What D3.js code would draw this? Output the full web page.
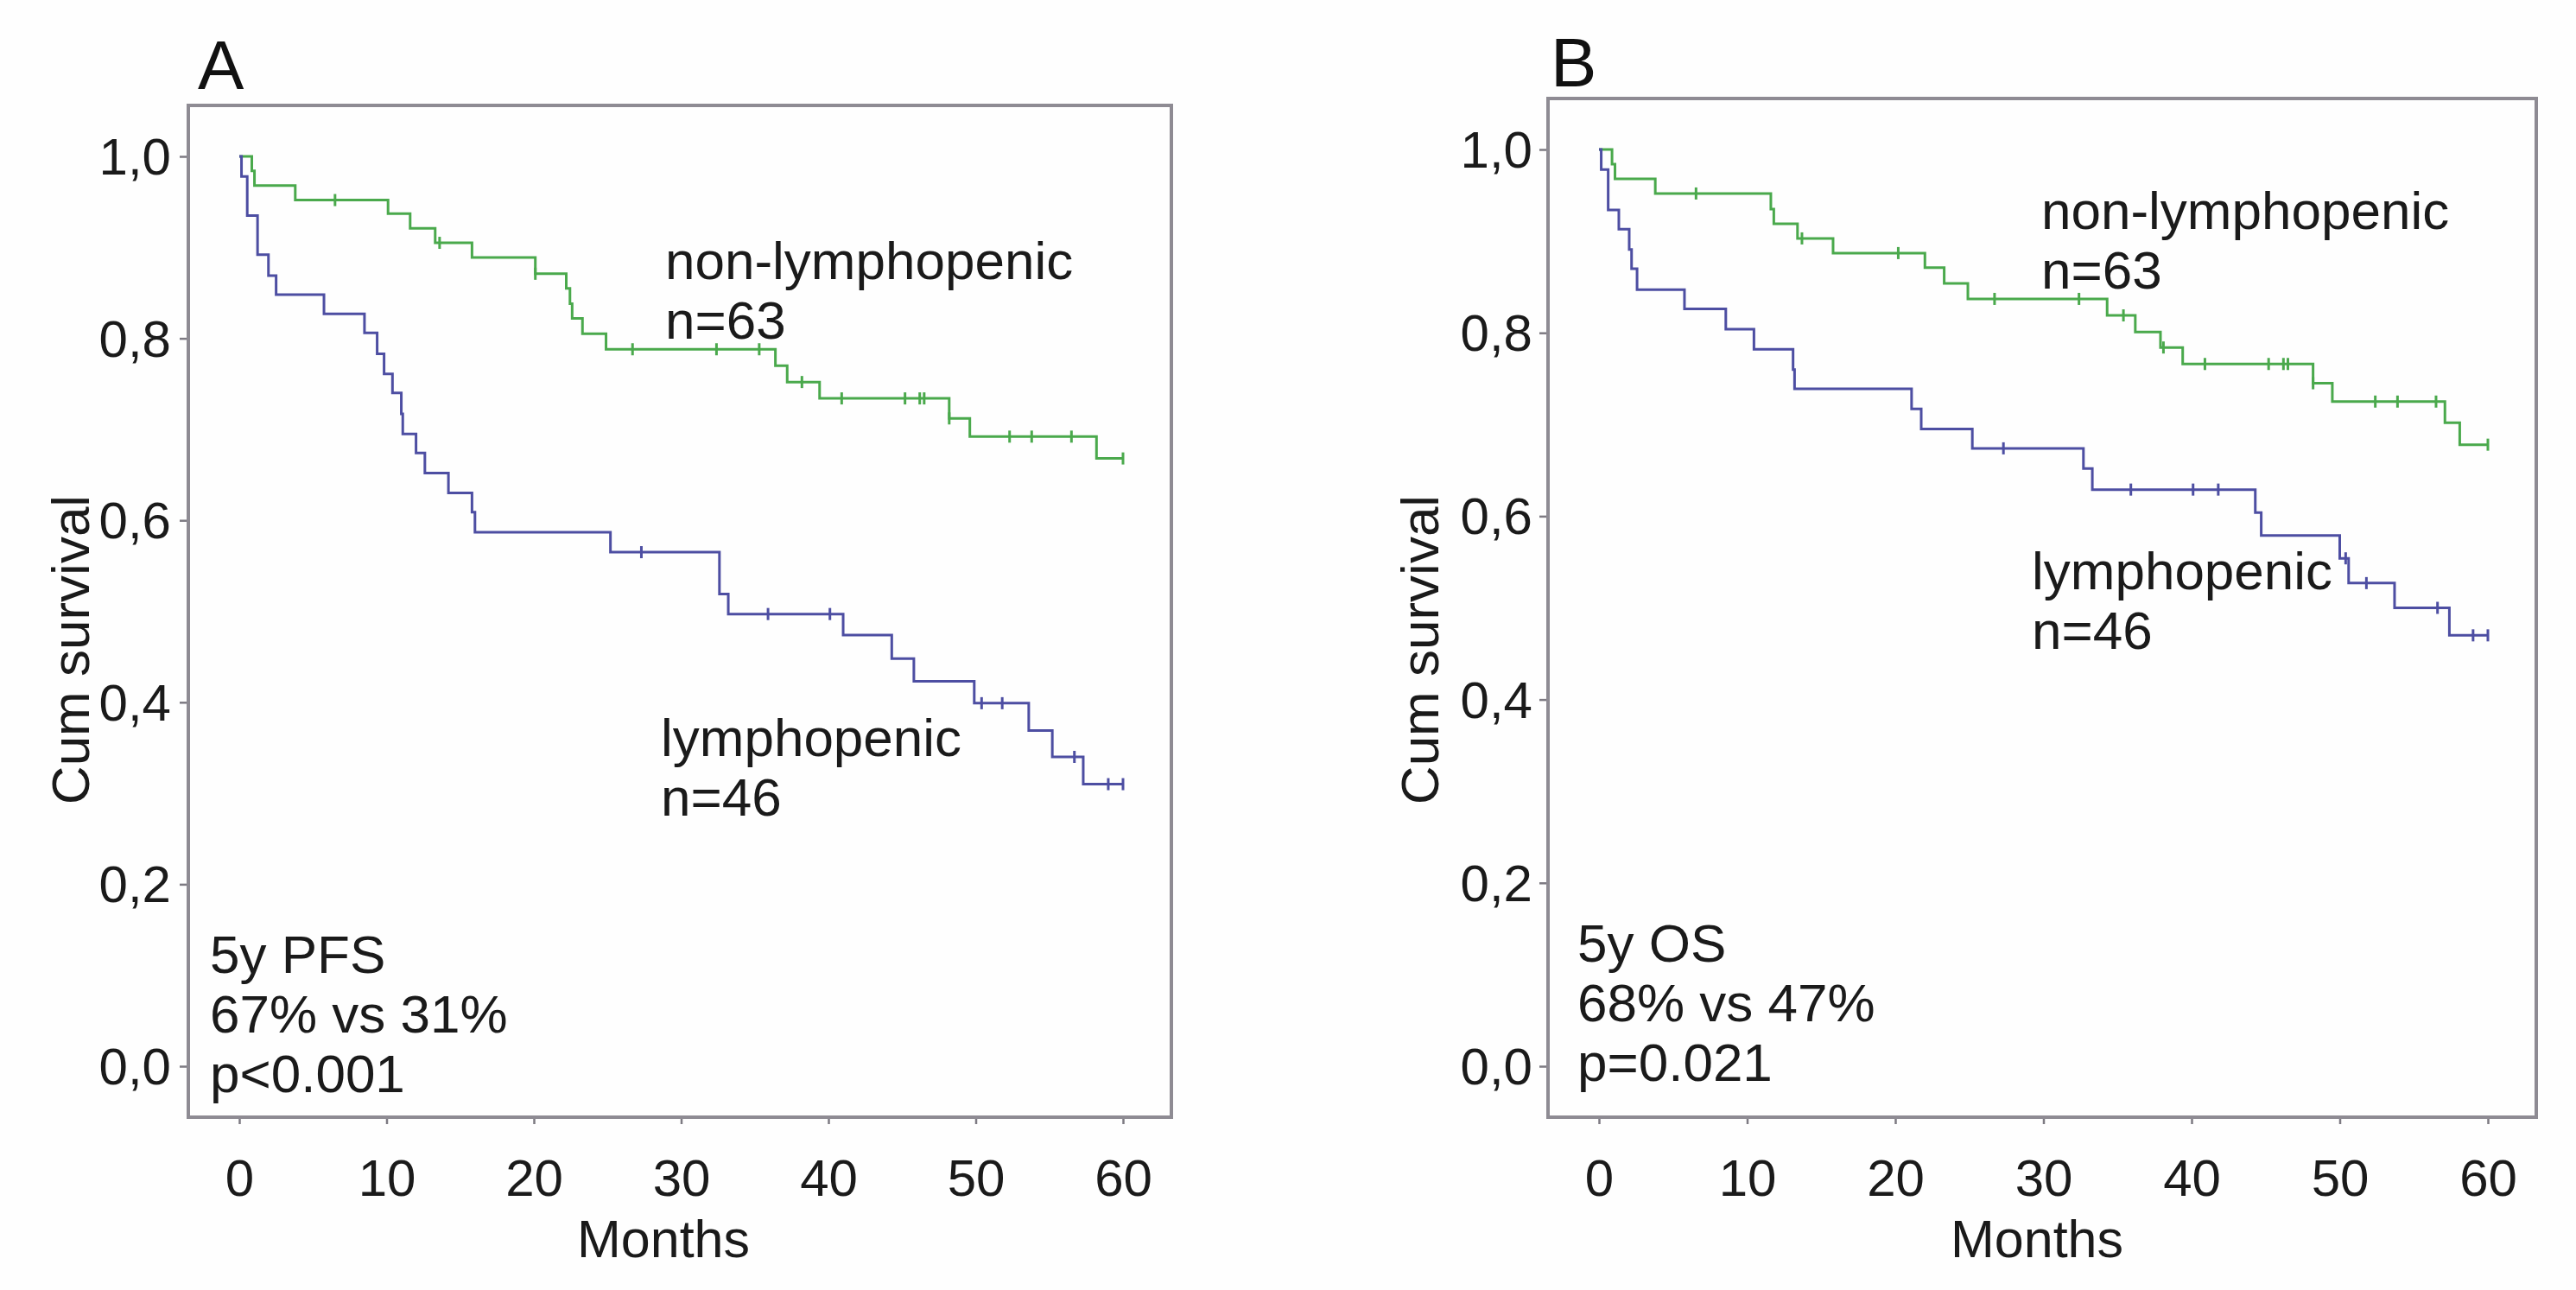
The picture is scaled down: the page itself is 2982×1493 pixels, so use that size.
<!DOCTYPE html>
<html>
<head>
<meta charset="utf-8">
<script src="https://cdn.jsdelivr.net/npm/d3@7"></script>
<style>
  body { margin: 0; background: #ffffff; }
  svg { display: block; }
</style>
</head>
<body>
<div id="chart"></div>
<script>
// ---- data (months, cumulative survival) ----
var monthTicks = [0, 10, 20, 30, 40, 50, 60];
var survTicks = [0, 0.2, 0.4, 0.6, 0.8, 1.0];
var survTickLabels = ["0,0", "0,2", "0,4", "0,6", "0,8", "1,0"];

// panel A: progression free survival
var pfsNonLymphTimes = [0.85, 1.03, 3.8, 10.1, 11.6, 13.3, 15.8, 20.1, 22.2, 22.45, 22.6, 23.3, 24.9, 36.4, 37.2, 39.4, 48.2, 49.6, 58.2];
var pfsNonLymphSurv = [0.984, 0.968, 0.952, 0.937, 0.921, 0.905, 0.889, 0.871, 0.855, 0.838, 0.822, 0.805, 0.788, 0.770, 0.752, 0.734, 0.712, 0.692, 0.668];
var pfsNonLymphCensor = [6.5, 13.6, 20.1, 26.7, 32.4, 35.3, 38.2, 40.9, 45.2, 46.2, 46.5, 48.2, 52.3, 53.8, 56.5, 60];

var pfsLymphTimes = [0.15, 0.54, 1.24, 1.98, 2.5, 5.75, 8.5, 9.36, 9.83, 10.4, 11.0, 11.1, 12.0, 12.6, 14.2, 15.8, 16.0, 25.2, 32.6, 33.2, 41.0, 44.3, 45.8, 49.9, 53.6, 55.2, 57.3];
var pfsLymphSurv = [0.978, 0.935, 0.892, 0.869, 0.848, 0.827, 0.806, 0.783, 0.761, 0.740, 0.717, 0.695, 0.674, 0.652, 0.630, 0.609, 0.587, 0.565, 0.519, 0.497, 0.474, 0.448, 0.423, 0.399, 0.369, 0.340, 0.310];
var pfsLymphCensor = [27.3, 35.9, 40.1, 50.4, 51.8, 56.7, 59.0, 60];

// panel B: overall survival
var osNonLymphTimes = [0.88, 1.08, 3.8, 11.6, 11.8, 13.4, 15.8, 22.0, 23.3, 24.9, 34.3, 36.2, 37.9, 39.4, 48.2, 49.5, 57.1, 58.1];
var osNonLymphSurv = [0.984, 0.968, 0.952, 0.935, 0.919, 0.903, 0.887, 0.871, 0.854, 0.837, 0.819, 0.801, 0.784, 0.766, 0.745, 0.725, 0.702, 0.678];
var osNonLymphCensor = [6.55, 13.7, 20.2, 26.7, 32.4, 35.4, 38.1, 40.9, 45.2, 46.2, 46.5, 48.2, 52.4, 53.9, 56.5, 60];

var osLymphTimes = [0.15, 0.62, 1.34, 2.04, 2.2, 2.57, 5.77, 8.56, 10.46, 13.1, 13.2, 21.1, 21.75, 25.2, 32.7, 33.3, 44.3, 44.7, 50.0, 50.6, 53.7, 57.4];
var osLymphSurv = [0.978, 0.934, 0.913, 0.891, 0.870, 0.847, 0.826, 0.804, 0.782, 0.760, 0.739, 0.717, 0.695, 0.674, 0.652, 0.629, 0.604, 0.579, 0.554, 0.527, 0.500, 0.470];
var osLymphCensor = [27.3, 35.9, 40.1, 41.8, 50.4, 51.8, 56.6, 59.0, 60];

var groupLabels = ["non-lymphopenic", "lymphopenic"];
var groupCounts = ["n=63", "n=46"];
var pfsSummary = ["5y PFS", "67% vs 31%", "p<0.001"];
var osSummary = ["5y OS", "68% vs 47%", "p=0.021"];

var green = "#4aa94c",
	blue = "#4d4ea2",
	frame = "#8e8b93",
	font = "'Liberation Sans', Arial, sans-serif";

var svg = d3.select("#chart")
	.append("svg")
		.attr("width", 2982)
		.attr("height", 1493)
		.style("font-family", font);

svg.append("rect")
	.attr("width", 2982)
	.attr("height", 1493)
	.attr("fill", "#fefefe");

function drawPanel(p) {
	// scales for this panel
	var x = d3.scaleLinear().domain([0, 60]).range([p.x0, p.x60]);
	var y = d3.scaleLinear().domain([0, 1]).range([p.y0, p.y1]);

	// panel letter
	svg.append("text")
		.attr("x", p.letterX)
		.attr("y", p.letterY)
		.style("font-size", "80px")
		.attr("fill", "#111")
		.text(p.letter);

	// y axis
	var yAxis = svg.append("g")
		.attr("transform", "translate(" + p.left + ",0)")
		.call(d3.axisLeft(y)
			.tickValues(survTicks)
			.tickFormat(function(d, i) { return survTickLabels[i]; })
			.tickSize(10)
			.tickPadding(p.yPad));
	// x axis
	var xAxis = svg.append("g")
		.attr("transform", "translate(0," + p.bottom + ")")
		.call(d3.axisBottom(x)
			.tickValues(monthTicks)
			.tickSize(8)
			.tickPadding(40));

	[yAxis, xAxis].forEach(function(g) {
		g.select(".domain").remove();
		g.selectAll(".tick line").attr("stroke", "#7d7a82").attr("stroke-width", 2.5);
		g.selectAll(".tick text")
			.attr("fill", "#1a1a1a")
			.style("font-family", font)
			.style("font-size", "60px");
	});
	yAxis.selectAll(".tick text").attr("dy", "0.34em");

	// frame
	svg.append("rect")
		.attr("x", p.left)
		.attr("y", p.top)
		.attr("width", p.right - p.left)
		.attr("height", p.bottom - p.top)
		.attr("fill", "none")
		.attr("stroke", frame)
		.attr("stroke-width", 4);

	// axis titles
	svg.append("text")
		.attr("x", p.monthsX)
		.attr("y", 1455)
		.attr("text-anchor", "middle")
		.style("font-size", "61px")
		.attr("fill", "#1a1a1a")
		.text("Months");

	svg.append("text")
		.attr("transform", "translate(" + p.cumX + ",752)rotate(-90)")
		.attr("text-anchor", "middle")
		.style("font-size", "62px")
		.attr("fill", "#1a1a1a")
		.text("Cum survival");

	// survival curves
	var line = d3.line()
		.x(function(d) { return x(d[0]); })
		.y(function(d) { return y(d[1]); })
		.curve(d3.curveStepAfter);

	p.series.forEach(function(s) {
		var pts = [[0, 1]];
		s.times.forEach(function(t, i) { pts.push([t, s.surv[i]]); });
		pts.push([60, s.surv[s.surv.length - 1]]);

		svg.append("path")
			.datum(pts)
			.attr("d", line)
			.attr("fill", "none")
			.attr("stroke", s.color)
			.attr("stroke-width", 3);

		// level of the curve at a censored time
		function level(t) {
			var v = 1;
			s.times.forEach(function(et, i) { if (et <= t) v = s.surv[i]; });
			return v;
		}

		svg.selectAll(null)
			.data(s.censor)
			.enter()
			.append("line")
			.attr("x1", function(d) { return x(d); })
			.attr("x2", function(d) { return x(d); })
			.attr("y1", function(d) { return y(level(d)) - 7; })
			.attr("y2", function(d) { return y(level(d)) + 7; })
			.attr("stroke", s.color)
			.attr("stroke-width", 3);
	});

	// group labels
	p.groupPos.forEach(function(g, i) {
		var t = svg.append("text")
			.attr("x", g[0])
			.attr("y", g[1])
			.style("font-size", "62px")
			.attr("fill", "#1a1a1a");
		t.append("tspan").attr("x", g[0]).text(groupLabels[i]);
		t.append("tspan").attr("x", g[0]).attr("dy", 69).text(groupCounts[i]);
	});

	// summary in lower left
	p.summary.forEach(function(s, i) {
		svg.append("text")
			.attr("x", p.sumX)
			.attr("y", p.sumY[i])
			.style("font-size", "62px")
			.attr("fill", "#1a1a1a")
			.text(s);
	});
}

drawPanel({
	letter: "A", letterX: 229, letterY: 103,
	left: 218, right: 1356, top: 122, bottom: 1293,
	x0: 277, x60: 1300, y0: 1234, y1: 181, yPad: 10,
	monthsX: 768, cumX: 103,
	groupPos: [[770, 323], [765, 875]],
	sumX: 243, sumY: [1126, 1195, 1264],
	summary: pfsSummary,
	series: [
		{times: pfsNonLymphTimes, surv: pfsNonLymphSurv, censor: pfsNonLymphCensor, color: green},
		{times: pfsLymphTimes, surv: pfsLymphSurv, censor: pfsLymphCensor, color: blue}
	]
});

drawPanel({
	letter: "B", letterX: 1795, letterY: 100,
	left: 1792, right: 2936, top: 114, bottom: 1293,
	x0: 1851, x60: 2880, y0: 1234, y1: 173, yPad: 8,
	monthsX: 2358, cumX: 1665,
	groupPos: [[2363, 265], [2352, 682]],
	sumX: 1826, sumY: [1113, 1182, 1251],
	summary: osSummary,
	series: [
		{times: osNonLymphTimes, surv: osNonLymphSurv, censor: osNonLymphCensor, color: green},
		{times: osLymphTimes, surv: osLymphSurv, censor: osLymphCensor, color: blue}
	]
});
</script>
</body>
</html>
